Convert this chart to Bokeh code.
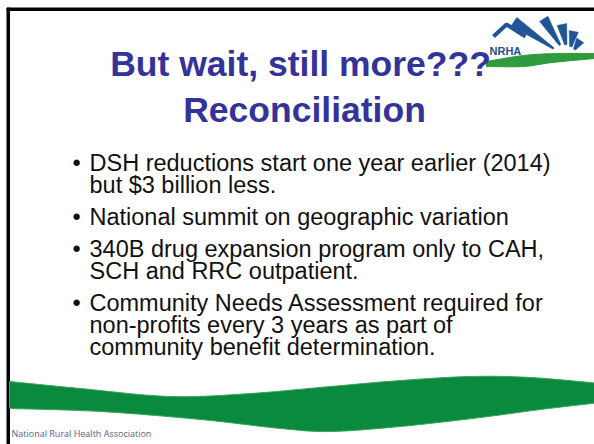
import numpy as np
from bokeh.plotting import figure
from bokeh.models import Range1d
from bokeh.core.properties import value
from bokeh.embed import file_html
from bokeh.resources import INLINE

# ---- slide content ----
title_lines = ["But wait, still more???", "Reconciliation"]
bullet_paragraphs = [
    ["DSH reductions start one year earlier (2014)", "but $3 billion less."],
    ["National summit on geographic variation"],
    ["340B drug expansion program only to CAH,", "SCH and RRC outpatient."],
    ["Community Needs Assessment required for",
     "non-profits every 3 years as part of",
     "community benefit determination."],
]
footer_text = "National Rural Health Association"
logo_text = "NRHA"

W, H = 594, 444
p = figure(width=W, height=H, output_backend="svg", toolbar_location=None,
           x_range=Range1d(0, W), y_range=Range1d(H, 0),
           min_border=0, background_fill_color="white",
           border_fill_color="white", outline_line_color=None)
p.axis.visible = False
p.grid.visible = False


def smooth(pts, n=24):
    pts = np.array(pts, float)
    P = np.vstack([pts[0], pts, pts[-1]])
    out = []
    for i in range(1, len(P) - 2):
        p0, p1, p2, p3 = P[i - 1], P[i], P[i + 1], P[i + 2]
        for t in np.linspace(0, 1, n, endpoint=False):
            t2, t3 = t * t, t * t * t
            out.append(0.5 * ((2 * p1) + (-p0 + p2) * t
                              + (2 * p0 - 5 * p1 + 4 * p2 - p3) * t2
                              + (-p0 + 3 * p1 - 3 * p2 + p3) * t3))
    out.append(P[-2])
    return np.array(out)

# ---- border lines (top and left) ----
p.quad(left=[6.5], right=[9], top=[7.5], bottom=[444], color="black")
p.quad(left=[6.5], right=[594], top=[7.5], bottom=[10], color="black")

# ---- green swoosh at bottom ----
top_edge = smooth([(9, 381), (80, 388), (170, 396), (250, 393), (330, 386),
                   (400, 380), (470, 376), (530, 377), (600, 383)])
bot_edge = smooth([(9, 408), (100, 411), (200, 419), (280, 428), (330, 431),
                   (400, 426), (480, 417), (540, 409), (600, 402)])
xs = np.concatenate([top_edge[:, 0], bot_edge[::-1, 0]])
ys = np.concatenate([top_edge[:, 1], bot_edge[::-1, 1]])
p.patch(xs, ys, fill_color="#0a8a3f", line_color="#3aa357", line_width=1)

# ---- logo ----
cx, cy = 568, 58
rays = [(146, 18, 66, 4.5), (122, 16, 47, 6.0), (101, 14, 35, 8.0),
        (79, 12, 28, 9.5), (57, 11, 22, 11.0)]
rx, ry = [], []
for ang, r0, r1, hw in rays:
    a = np.radians([ang - hw * 0.6, ang - hw, ang + hw, ang + hw * 0.6])
    rr = [r0, r1, r1, r0]
    rx.append(list(cx + np.array(rr) * np.cos(a)))
    ry.append(list(cy - np.array(rr) * np.sin(a)))
p.patches(rx, ry, fill_color="#1f5596", line_color="#1f5596", line_width=0.5)
p.line([493, 506, 525], [36, 24, 36], line_color="#1f5596", line_width=4)
g_top = smooth([(486, 61), (523, 55), (557, 53), (594, 53)], 12)
g_bot = smooth([(594, 58), (552, 62), (523, 66), (486, 66)], 12)
p.patch(np.concatenate([g_top[:, 0], g_bot[:, 0]]),
        np.concatenate([g_top[:, 1], g_bot[:, 1]]),
        fill_color="#2f9a3e", line_color="#2f9a3e")
p.text(x=[489], y=[50], text=[logo_text], text_font=value("Liberation Sans"),
       text_font_style="bold", text_font_size="11px", text_color="#1f4f8f",
       text_baseline="alphabetic", text_align="left")

# ---- title ----
p.text(x=[300, 304], y=[63, 109], text=title_lines,
       text_font=value("Liberation Sans"), text_font_style="bold",
       text_font_size="35.5px", text_color="#333399",
       text_align="center", text_baseline="alphabetic")

# ---- bullets ----
by, ty, tt = [], [], []
y = 162
for para in bullet_paragraphs:
    by.append(y)
    for k, line in enumerate(para):
        ty.append(y)
        tt.append(line)
        y += 22
    y += 10
p.text(x=[72] * len(by), y=by, text=["\u2022"] * len(by),
       text_font=value("Liberation Sans"), text_font_size="23.5px",
       text_color="#111111", text_align="left", text_baseline="alphabetic")
p.text(x=[89] * len(ty), y=ty, text=tt,
       text_font=value("Liberation Sans"), text_font_size="23.5px",
       text_color="#111111", text_align="left", text_baseline="alphabetic")

# ---- footer ----
p.text(x=[11], y=[433], text=[footer_text], text_font=value("Open Sans"),
       text_font_size="9px", text_color="#56628c",
       text_align="left", text_baseline="alphabetic")

open("out.html", "w").write(file_html(p, INLINE))
